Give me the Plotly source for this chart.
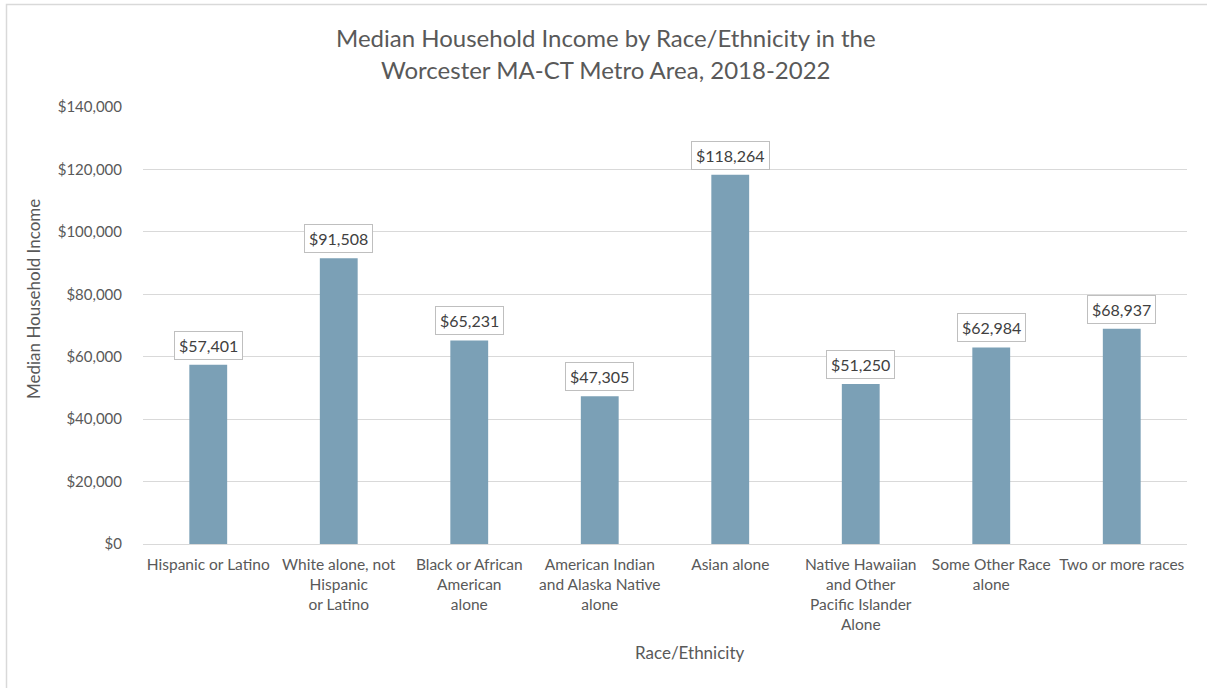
import plotly.graph_objects as go

categories = [
    "Hispanic or Latino",
    "White alone, not<br>Hispanic<br>or Latino",
    "Black or African<br>American<br>alone",
    "American Indian<br>and Alaska Native<br>alone",
    "Asian alone",
    "Native Hawaiian<br>and Other<br>Pacific Islander<br>Alone",
    "Some Other Race<br>alone",
    "Two or more races",
]
incomes = [57401, 91508, 65231, 47305, 118264, 51250, 62984, 68937]
ytick_vals = [0, 20000, 40000, 60000, 80000, 100000, 120000, 140000]
ytick_text = ["$0", "$20,000", "$40,000", "$60,000", "$80,000", "$100,000", "$120,000", "$140,000"]

FONT = "Lato"
GREY = "#595959"
W, H = 1207, 688
L, T = 143, 107
R = W - 1187
B = H - 544

fig = go.Figure()
fig.add_trace(go.Bar(
    x=list(range(len(categories))),
    y=incomes,
    marker=dict(color="#7BA0B6", line=dict(width=0)),
    width=0.29,
    hoverinfo="skip",
))

annotations = []
for i, v in enumerate(incomes):
    annotations.append(dict(
        x=i, y=v, xref="x", yref="y",
        text=f"${v:,}", showarrow=False,
        yanchor="bottom", yshift=5,
        font=dict(family=FONT, size=16, color="#404040"),
        bgcolor="white", bordercolor="#BFBFBF", borderwidth=1, borderpad=4,
    ))

pw = W - L - R
ph = H - T - B
def px(xp):
    return (xp - L) / pw
def py(yp):
    return (H - B - yp) / ph

annotations += [
    dict(x=px(606), y=py(37), xref="paper", yref="paper", text="Median Household Income by Race/Ethnicity in the",
         showarrow=False, xanchor="center", yanchor="middle",
         font=dict(family=FONT, size=24, color=GREY)),
    dict(x=px(606), y=py(70), xref="paper", yref="paper", text="Worcester MA-CT Metro Area, 2018-2022",
         showarrow=False, xanchor="center", yanchor="middle",
         font=dict(family=FONT, size=24, color=GREY)),
    dict(x=px(689), y=py(652), xref="paper", yref="paper", text="Race/Ethnicity",
         showarrow=False, xanchor="center", yanchor="middle",
         font=dict(family=FONT, size=17, color=GREY)),
    dict(x=px(33), y=py(299), xref="paper", yref="paper", text="Median Household Income",
         showarrow=False, xanchor="center", yanchor="middle", textangle=-90,
         font=dict(family=FONT, size=17, color=GREY)),
]

fig.update_layout(
    width=W, height=H,
    margin=dict(l=L, r=R, t=T, b=B, autoexpand=False),
    paper_bgcolor="white", plot_bgcolor="white",
    showlegend=False,
    hovermode=False,
    annotations=annotations,
    xaxis=dict(
        tickmode="array", tickvals=list(range(len(categories))), ticktext=categories,
        range=[-0.5, len(categories) - 0.5],
        showgrid=False, showline=True, linecolor="#D9D9D9", linewidth=1,
        tickfont=dict(family=FONT, size=15.5, color=GREY),
        ticks="outside", ticklen=6, tickcolor="rgba(0,0,0,0)",
        tickangle=0, zeroline=False,
    ),
    yaxis=dict(
        range=[0, 140000], tickvals=ytick_vals, ticktext=ytick_text,
        showgrid=True, gridcolor="#D9D9D9", gridwidth=1,
        zeroline=False, showline=False,
        tickfont=dict(family=FONT, size=15, color=GREY),
        ticks="outside", ticklen=17, tickcolor="rgba(0,0,0,0)",
    ),
    shapes=[dict(type="rect", xref="paper", yref="paper",
                 x0=px(6.5), x1=px(W + 10), y0=py(H + 10), y1=py(4.5),
                 line=dict(color="#D9D9D9", width=1.5), fillcolor="rgba(0,0,0,0)", layer="below")],
)

fig.write_html(
    "out.html",
    config={"displayModeBar": False},
    post_script="document.body.style.margin='0';document.body.style.overflow='hidden';",
)
